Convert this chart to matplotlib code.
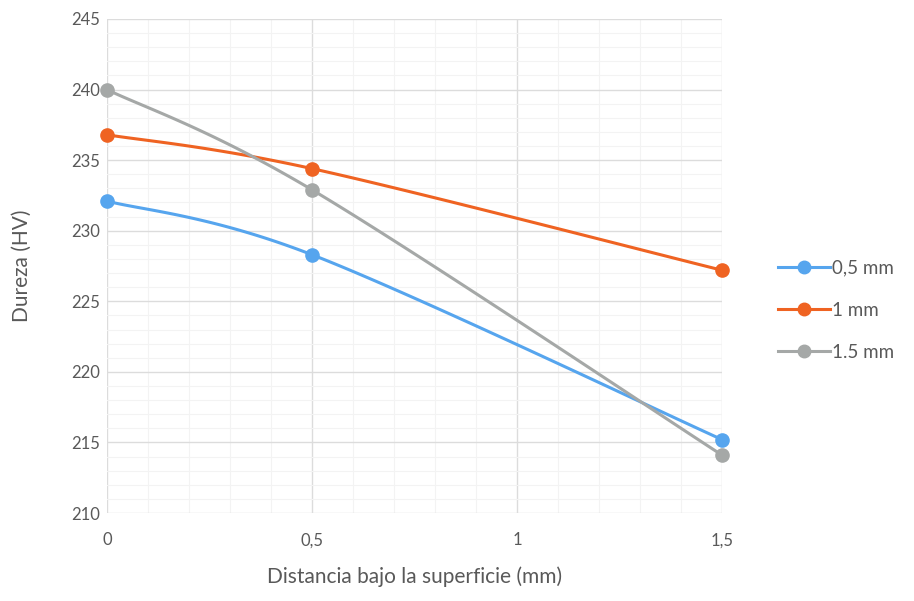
import numpy as np
import matplotlib
matplotlib.use("Agg")
import matplotlib.pyplot as plt
from matplotlib.lines import Line2D

plt.rcParams['font.family'] = ['Lato', 'DejaVu Sans']

# Data
distancia = [0.0, 0.5, 1.5]
series_names = ["0,5 mm", "1 mm", "1.5 mm"]
dureza_05 = [232.1, 228.3, 215.2]
dureza_10 = [236.8, 234.4, 227.2]
dureza_15 = [240.0, 232.9, 214.1]
x_ticks = [0, 0.5, 1, 1.5]
x_tick_labels = ["0", "0,5", "1", "1,5"]
y_ticks = [210, 215, 220, 225, 230, 235, 240, 245]

colors = ["#56A5EE", "#EF6322", "#A5A8A7"]
text_color = "#595959"

fig = plt.figure(figsize=(9.14, 6.01), dpi=100)
ax = fig.add_axes([0.117, 0.1464, 0.673, 0.822])
ax.set_xlim(0, 1.5)
ax.set_ylim(210, 245)


def smooth_curve(ax, xs, ys, n=60):
    """Smoothed line: cubic Bezier segments with Catmull-Rom
    control points, built in display space."""
    pts = ax.transData.transform(np.column_stack([xs, ys]))
    m = len(pts)
    out = []
    for i in range(m - 1):
        p0 = pts[max(i - 1, 0)]
        p1 = pts[i]
        p2 = pts[i + 1]
        p3 = pts[min(i + 2, m - 1)]
        c1 = p1 + (p2 - p0) / 6.0
        c2 = p2 - (p3 - p1) / 6.0
        t = np.linspace(0, 1, n)[:, None]
        seg = ((1 - t) ** 3) * p1 + 3 * ((1 - t) ** 2) * t * c1 \
            + 3 * (1 - t) * t ** 2 * c2 + t ** 3 * p2
        if i > 0:
            seg = seg[1:]
        out.append(seg)
    curve = np.vstack(out)
    data = ax.transData.inverted().transform(curve)
    return data[:, 0], data[:, 1]


# grid
ax.set_xticks(x_ticks)
ax.set_xticklabels(x_tick_labels)
ax.set_yticks(y_ticks)
ax.set_xticks(np.arange(0, 1.51, 0.1), minor=True)
ax.set_yticks(np.arange(210, 245.1, 1), minor=True)
ax.grid(which="major", color="#DCDCDC", linewidth=1.0)
ax.grid(which="minor", color="#F3F3F3", linewidth=0.8)
ax.set_axisbelow(True)

for s in ax.spines.values():
    s.set_visible(False)
ax.tick_params(which="both", length=0)
ax.tick_params(axis="y", labelsize=12, labelcolor=text_color, pad=5)
ax.tick_params(axis="x", labelsize=12, labelcolor=text_color, pad=14)

handles = []
for name, ys, c in zip(series_names, [dureza_05, dureza_10, dureza_15], colors):
    sx, sy = smooth_curve(ax, distancia, ys)
    ax.plot(sx, sy, color=c, linewidth=2.2, solid_capstyle="round", zorder=3)
    ax.plot(distancia, ys, linestyle="none", marker="o", markersize=9.5,
            color=c, zorder=4, clip_on=False)
    handles.append(Line2D([], [], color=c, linewidth=2.2, marker="o",
                          markersize=9, label=name))

ax.set_xlabel("Distancia bajo la superficie (mm)", fontsize=15,
              color=text_color)
ax.set_ylabel("Dureza (HV)", fontsize=15, color=text_color)
ax.xaxis.set_label_coords(0.5, -0.108)
ax.yaxis.set_label_coords(-0.122, 0.5)

leg = fig.legend(handles=handles, loc="center left",
                 bbox_to_anchor=(0.8326, 0.484), frameon=False,
                 fontsize=13.5, handlelength=2.8, handletextpad=0.1,
                 labelspacing=1.35, numpoints=1)
for t in leg.get_texts():
    t.set_color(text_color)

fig.savefig("out.png", dpi=100, facecolor="white")
